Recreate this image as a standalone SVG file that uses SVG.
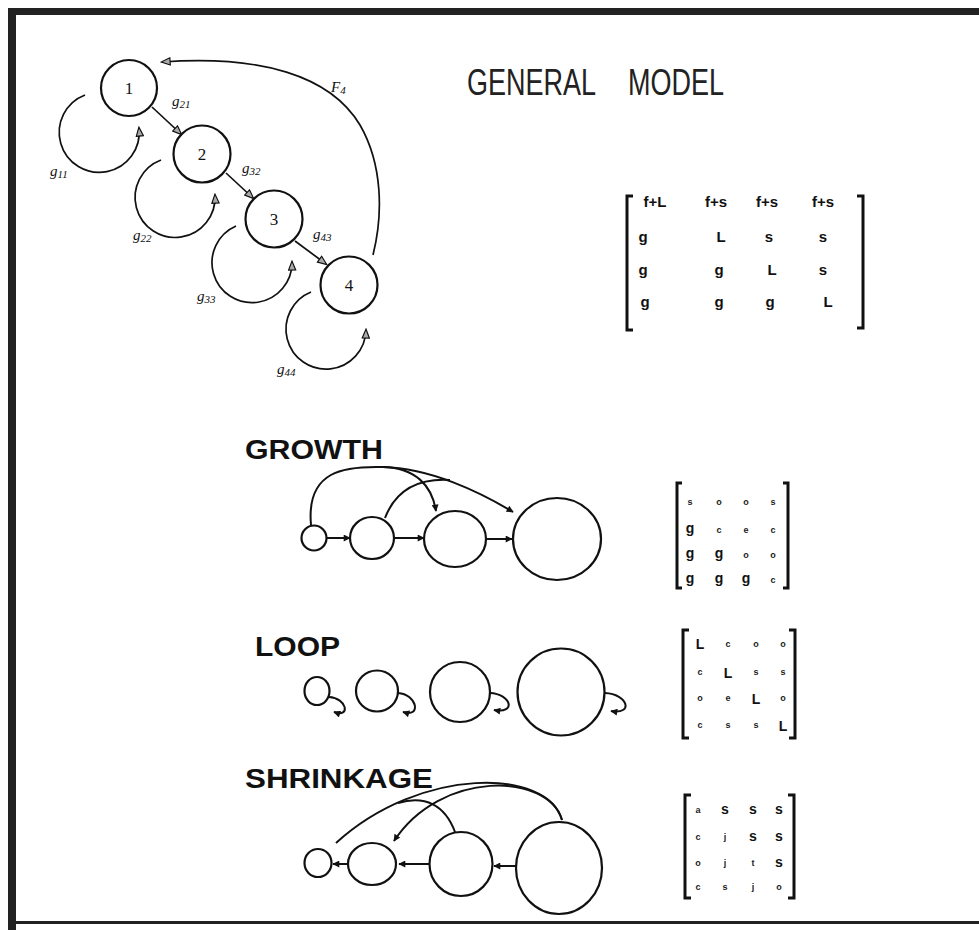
<svg xmlns="http://www.w3.org/2000/svg" width="979" height="930" viewBox="0 0 979 930">
<style>
.frame{fill:#222}
.nd{fill:none;stroke:#111;stroke-width:2.2}
.c{fill:none;stroke:#111;stroke-width:1.7}
.cb{fill:none;stroke:#111;stroke-width:2}
.num{font-family:"Liberation Serif",serif;font-size:17px;fill:#111;text-anchor:middle}
.lab{font-family:"Liberation Serif",serif;font-style:italic;font-size:15px;fill:#111}
.sub{font-size:11px}
.title{font-family:"Liberation Sans",Arial,sans-serif;font-size:27px;fill:#222}
.head{font-family:"Liberation Sans",Arial,sans-serif;font-weight:bold;font-size:27px;fill:#111}
.br{fill:none;stroke:#111;stroke-width:3}
.me{font-family:"Liberation Sans",Arial,sans-serif;font-weight:bold;font-size:15px;fill:#111;text-anchor:middle}
.mb{font-family:"Liberation Sans",Arial,sans-serif;font-weight:bold;font-size:14px;fill:#111;text-anchor:middle}
.ms{font-family:"Liberation Sans",Arial,sans-serif;font-weight:bold;font-size:9px;fill:#222;text-anchor:middle}
</style>
<defs>
<marker id="hol" viewBox="0 0 10 10" refX="9" refY="5" markerWidth="11" markerHeight="9" markerUnits="userSpaceOnUse" orient="auto">
<path d="M0,1 L10,5 L0,9 z" fill="#aaa" stroke="#111" stroke-width="1.3"/>
</marker>
<marker id="sol" viewBox="0 0 10 10" refX="9" refY="5" markerWidth="9" markerHeight="7" markerUnits="userSpaceOnUse" orient="auto">
<path d="M0,0 L10,5 L0,10 z" fill="#111"/>
</marker>
</defs>
<rect width="979" height="930" fill="#fff"/>
<g id="frame">
<rect class="frame" x="8" y="8" width="971" height="7"/>
<rect class="frame" x="8" y="8" width="8" height="922"/>
<rect class="frame" x="16" y="921" width="963" height="3"/>
</g>

<g id="general-title">
<text class="title" transform="translate(467,95) scale(1,1.37)" x="0" y="0">GENERAL</text>
<text class="title" transform="translate(628,95) scale(1,1.37)" x="0" y="0">MODEL</text>
</g>

<g id="n1"><circle class="nd" cx="129" cy="88" r="28"/><text class="num" x="129" y="94">1</text></g>
<g id="n2"><circle class="nd" cx="202" cy="154" r="28.5"/><text class="num" x="202" y="160">2</text></g>
<g id="n3"><circle class="nd" cx="274" cy="219" r="28.5"/><text class="num" x="274" y="225">3</text></g>
<g id="n4"><circle class="nd" cx="349" cy="285" r="28.5"/><text class="num" x="349" y="291">4</text></g>

<g id="connectors-general">
<path class="c" d="M152,107 L181,134" marker-end="url(#hol)"/>
<path class="c" d="M226,173 L253,198" marker-end="url(#hol)"/>
<path class="c" d="M295,241 L326,264" marker-end="url(#hol)"/>
<path class="c" d="M85,95 A40,40 0 1 0 139,128" marker-end="url(#hol)"/>
<path class="c" d="M161,160 A40,40 0 1 0 215,195" marker-end="url(#hol)"/>
<path class="c" d="M236,226 A40,40 0 1 0 292,262" marker-end="url(#hol)"/>
<path class="c" d="M311,292 A40,40 0 1 0 366,330" marker-end="url(#hol)"/>
<path class="c" d="M373,255 C383,215 383,165 360,125 C330,75 260,55 162,62" marker-end="url(#hol)"/>
</g>
<g id="labels-general">
<text class="lab" x="50" y="176">g<tspan class="sub" dy="2">11</tspan></text>
<text class="lab" x="172" y="106">g<tspan class="sub" dy="2">21</tspan></text>
<text class="lab" x="242" y="173">g<tspan class="sub" dy="2">32</tspan></text>
<text class="lab" x="313" y="239">g<tspan class="sub" dy="2">43</tspan></text>
<text class="lab" x="133" y="240">g<tspan class="sub" dy="2">22</tspan></text>
<text class="lab" x="197" y="301">g<tspan class="sub" dy="2">33</tspan></text>
<text class="lab" x="277" y="374">g<tspan class="sub" dy="2">44</tspan></text>
<text class="lab" x="331" y="92">F<tspan class="sub" dy="2">4</tspan></text>
</g>

<g id="matrix-general">
<path class="br" d="M633,196 L627,196 L627,330 L633,330"/>
<path class="br" d="M857,196 L863,196 L863,328 L857,328"/>
<text class="me" x="655" y="207">f+L</text>
<text class="me" x="716" y="207">f+s</text>
<text class="me" x="767" y="207">f+s</text>
<text class="me" x="823" y="207">f+s</text>
<text class="me" x="643" y="242">g</text>
<text class="me" x="721" y="242">L</text>
<text class="me" x="769" y="242">s</text>
<text class="me" x="823" y="242">s</text>
<text class="me" x="643" y="275">g</text>
<text class="me" x="719" y="275">g</text>
<text class="me" x="772" y="275">L</text>
<text class="me" x="823" y="275">s</text>
<text class="me" x="645" y="307">g</text>
<text class="me" x="719" y="307">g</text>
<text class="me" x="770" y="307">g</text>
<text class="me" x="828" y="307">L</text>
</g>

<!-- GROWTH -->
<text class="head" x="245" y="459" textLength="138" lengthAdjust="spacingAndGlyphs">GROWTH</text>
<g id="gr1"><circle class="nd" cx="314" cy="538" r="12.5"/></g>
<g id="gr2"><ellipse class="nd" cx="372" cy="538" rx="22" ry="21"/></g>
<g id="gr3"><ellipse class="nd" cx="455" cy="539" rx="31" ry="28"/></g>
<g id="gr4"><ellipse class="nd" cx="557" cy="539" rx="44" ry="41"/></g>
<g id="connectors-growth">
<path class="cb" d="M327,538 L350,538" marker-end="url(#sol)"/>
<path class="cb" d="M394,538 L424,538" marker-end="url(#sol)"/>
<path class="cb" d="M486,539 L512,539" marker-end="url(#sol)"/>
<path class="cb" d="M311,525 C306,470 345,466 383,467 C415,468 432,485 436,511" marker-end="url(#sol)"/>
<path class="cb" d="M383,467 C430,468 480,492 513,512" marker-end="url(#sol)"/>
<path class="cb" d="M385,518 C395,492 415,478 450,480"/>
</g>
<g id="matrix-growth">
<path class="br" d="M682,483 L677,483 L677,588 L682,588"/>
<path class="br" d="M783,483 L788,483 L788,588 L783,588"/>
<text class="ms" x="690" y="505">s</text>
<text class="ms" x="719" y="505">o</text>
<text class="ms" x="746" y="505">o</text>
<text class="ms" x="773" y="505">s</text>
<text class="mb" x="690" y="533">g</text>
<text class="ms" x="719" y="533">c</text>
<text class="ms" x="746" y="533">e</text>
<text class="ms" x="773" y="533">c</text>
<text class="mb" x="690" y="558">g</text>
<text class="mb" x="719" y="558">g</text>
<text class="ms" x="746" y="558">o</text>
<text class="ms" x="773" y="558">o</text>
<text class="mb" x="690" y="583">g</text>
<text class="mb" x="719" y="583">g</text>
<text class="mb" x="746" y="583">g</text>
<text class="ms" x="773" y="583">c</text>
</g>

<!-- LOOP -->
<text class="head" x="255" y="656" textLength="85" lengthAdjust="spacingAndGlyphs">LOOP</text>
<g id="lp1"><ellipse class="nd" cx="317" cy="691" rx="12.5" ry="14"/></g>
<g id="lp2"><ellipse class="nd" cx="377" cy="691" rx="21" ry="20.5"/></g>
<g id="lp3"><circle class="nd" cx="460" cy="692" r="30"/></g>
<g id="lp4"><circle class="nd" cx="561" cy="692" r="43.5"/></g>
<g id="connectors-loop">
<path class="cb" d="M329,697 C347,698 351,718 334,712" marker-end="url(#sol)"/>
<path class="cb" d="M398,693 C417,694 422,718 403,712" marker-end="url(#sol)"/>
<path class="cb" d="M490,693 C511,694 517,714 494,710" marker-end="url(#sol)"/>
<path class="cb" d="M605,693 C628,694 634,715 611,711" marker-end="url(#sol)"/>
</g>
<g id="matrix-loop">
<path class="br" d="M689,630 L683,630 L683,738 L689,738"/>
<path class="br" d="M789,630 L795,630 L795,738 L789,738"/>
<text class="mb" x="700" y="649">L</text>
<text class="ms" x="728" y="647">c</text>
<text class="ms" x="756" y="647">o</text>
<text class="ms" x="783" y="647">o</text>
<text class="ms" x="700" y="675">c</text>
<text class="mb" x="728" y="678">L</text>
<text class="ms" x="756" y="675">s</text>
<text class="ms" x="783" y="675">s</text>
<text class="ms" x="700" y="701">o</text>
<text class="ms" x="728" y="701">e</text>
<text class="mb" x="756" y="704">L</text>
<text class="ms" x="783" y="701">o</text>
<text class="ms" x="700" y="728">c</text>
<text class="ms" x="728" y="728">s</text>
<text class="ms" x="756" y="728">s</text>
<text class="mb" x="783" y="731">L</text>
</g>

<!-- SHRINKAGE -->
<text class="head" x="245" y="788" textLength="188" lengthAdjust="spacingAndGlyphs">SHRINKAGE</text>
<g id="sh1"><ellipse class="nd" cx="318" cy="863" rx="13.5" ry="14"/></g>
<g id="sh2"><ellipse class="nd" cx="372" cy="864" rx="24" ry="21"/></g>
<g id="sh3"><ellipse class="nd" cx="461" cy="864" rx="31.5" ry="32"/></g>
<g id="sh4"><ellipse class="nd" cx="559" cy="868" rx="43" ry="46"/></g>
<g id="connectors-shrinkage">
<path class="cb" d="M347,864 L333,864" marker-end="url(#sol)"/>
<path class="cb" d="M430,864 L399,864" marker-end="url(#sol)"/>
<path class="cb" d="M516,866 L494,866" marker-end="url(#sol)"/>
<path class="cb" d="M562,820 C548,768 420,766 336,843"/>
<path class="cb" d="M562,820 C548,772 440,770 394,841" marker-end="url(#sol)"/>
<path class="cb" d="M455,832 C445,805 425,795 398,803"/>
</g>
<g id="matrix-shrinkage">
<path class="br" d="M691,795 L685,795 L685,898 L691,898"/>
<path class="br" d="M788,795 L794,795 L794,898 L788,898"/>
<text class="ms" x="698" y="813">a</text>
<text class="mb" x="725" y="814">s</text>
<text class="mb" x="753" y="814">s</text>
<text class="mb" x="779" y="814">s</text>
<text class="ms" x="698" y="840">c</text>
<text class="ms" x="725" y="840">j</text>
<text class="mb" x="753" y="841">s</text>
<text class="mb" x="779" y="841">s</text>
<text class="ms" x="698" y="866">o</text>
<text class="ms" x="725" y="866">j</text>
<text class="ms" x="753" y="866">t</text>
<text class="mb" x="779" y="867">s</text>
<text class="ms" x="698" y="890">c</text>
<text class="ms" x="725" y="890">s</text>
<text class="ms" x="753" y="890">j</text>
<text class="ms" x="779" y="890">o</text>
</g>
</svg>
